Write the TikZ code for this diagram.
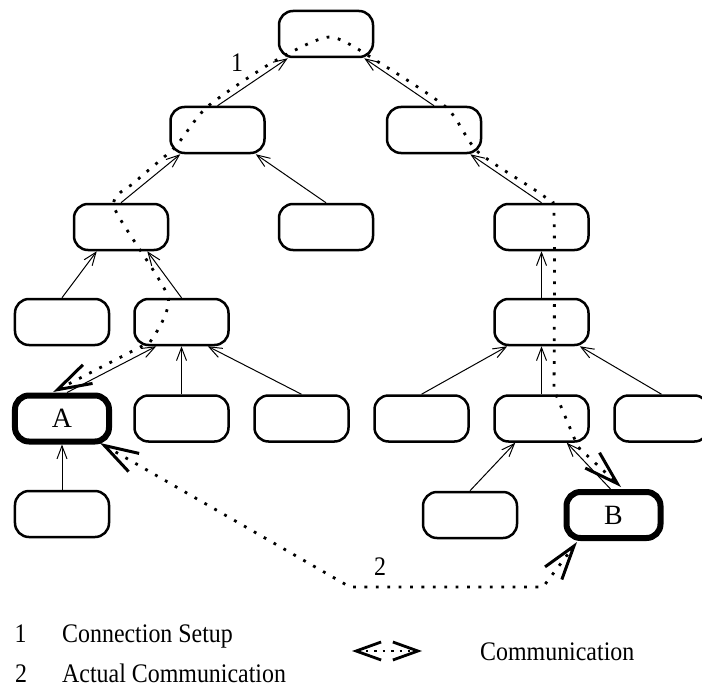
\documentclass[tikz,border=0pt]{standalone}
\usepackage{fontspec}
\setmainfont{Liberation Serif}
\usepackage{graphicx}
\usetikzlibrary{arrows.meta,calc}
\begin{document}
\begin{tikzpicture}[x=1bp,y=-1bp,
  box/.style={draw, line width=2.5bp, rounded corners=14bp, minimum width=94bp, minimum height=46bp, inner sep=0pt},
  endbox/.style={box, line width=6bp, font=\fontsize{28}{28}\selectfont},
  link/.style={line width=1bp, -{Straight Barb[length=13bp,width=10bp]}},
  comm/.style={line width=2.8bp, dash pattern=on 2.8bp off 8.6bp},
  commends/.style={{Straight Barb[length=34bp,width=21bp,line width=0.2bp 1]}-{Straight Barb[length=34bp,width=21bp,line width=0.2bp 1]}},
  legends/.style={{Straight Barb[length=25bp,width=18bp,line width=0.4bp 1]}-{Straight Barb[length=25bp,width=18bp,line width=0.4bp 1]}},
  lbl/.style={font=\fontsize{24}{24}\selectfont, inner sep=0pt}
]
\useasboundingbox (0,0) rectangle (702,690);
\clip (0,0) rectangle (702,690);

% nodes
\node[box] (root) at (326,34) {};
\node[box] (n1a) at (217.5,130) {};
\node[box] (n1b) at (434,130) {};
\node[box] (n2a) at (121,227) {};
\node[box] (n2b) at (326,227) {};
\node[box] (n2c) at (541.5,227) {};
\node[box] (n3a) at (62,322) {};
\node[box] (n3b) at (181.5,322) {};
\node[box] (n3c) at (541.5,322) {};
\node[endbox] (A) at (62,418.5) {A};
\node[box] (n4b) at (181.5,418.5) {};
\node[box] (n4c) at (301.5,418.5) {};
\node[box] (n4d) at (421.5,418.5) {};
\node[box] (n4e) at (541.5,418.5) {};
\node[box] (n4f) at (661.5,418.5) {};
\node[box] (n5a) at (62,514) {};
\node[box] (n5b) at (470,515) {};
\node[endbox] (B) at (613.5,515) {B};

% tree links
\draw[link] (n1a.north) -- ([xshift=10bp]root.south west);
\draw[link] (n1b.north) -- ([xshift=-10bp]root.south east);
\draw[link] (n2a.north) -- ([xshift=11bp]n1a.south west);
\draw[link] (n2b.north) -- ([xshift=-10bp]n1a.south east);
\draw[link] (n2c.north) -- ([xshift=-12bp]n1b.south east);
\draw[link] (n3a.north) -- ([xshift=24bp]n2a.south west);
\draw[link] (n3b.north) -- ([xshift=-22bp]n2a.south east);
\draw[link] (n3c.north) -- (n2c.south);
\draw[link] ([xshift=5bp]A.north) -- ([xshift=23bp]n3b.south west);
\draw[link] (n4b.north) -- (n3b.south);
\draw[link] (n4c.north) -- ([xshift=-22bp]n3b.south east);
\draw[link] (n4d.north) -- ([xshift=14bp]n3c.south west);
\draw[link] (n4e.north) -- (n3c.south);
\draw[link] (n4f.north) -- ([xshift=-10bp]n3c.south east);
\draw[link] (n5a.north) -- (A.south);
\draw[link] (n5b.north) -- ([xshift=22bp]n4e.south west);
\draw[link] ([xshift=-3bp]B.north) -- ([xshift=-23bp]n4e.south east);

% connection setup path (1)
\coordinate (c0) at (53,392);
\coordinate (c1) at (150,342);
\coordinate (c2) at (168,297);
\coordinate (c3) at (114,207);
\coordinate (c4) at (135,182);
\coordinate (c5) at (175,147);
\coordinate (c6) at (207,107);
\coordinate (c7) at (273,62);
\coordinate (c8) at (330,37);
\coordinate (c9) at (380,63);
\coordinate (c10) at (447,108);
\coordinate (c11) at (478,152);
\coordinate (c12) at (545,197);
\coordinate (c13) at (554,215);
\coordinate (c14) at (554,390);
\coordinate (c15) at (578,447);
\coordinate (c16) at (621,487);
\draw[comm, commends] (c0) -- (c1) -- plot[smooth, tension=0.4] coordinates {(c1) (c2) (c3) (c4) (c5) (c6) (c7) (c8) (c9) (c10) (c11) (c12) (c13) (c14)} -- (c15) -- (c16);

% actual communication path (2)
\coordinate (p0) at (100,443);
\coordinate (p1) at (350,587);
\coordinate (p2) at (543,587);
\coordinate (p3) at (577,542);
\draw[comm, commends] (p0) -- (p1) -- (p2) -- (p3);

% labels
\node[lbl, anchor=base] (lab1) at (237,72) {\scalebox{1}[1.12]{1}};
\node[lbl, anchor=base] (lab2) at (380,575) {\scalebox{1}[1.12]{2}};

% legend
\node[lbl, anchor=base] (k1) at (20.5,642) {\scalebox{1}[1.12]{1}};
\node[lbl, anchor=base west] (t1) at (62,642) {\scalebox{1}[1.12]{Connection Setup}};
\node[lbl, anchor=base] (k2) at (21,682) {\scalebox{1}[1.12]{2}};
\node[lbl, anchor=base west] (t2) at (62,682) {\scalebox{1}[1.12]{Actual Communication}};
\coordinate (g0) at (352,651);
\coordinate (g1) at (422,651);
\draw[comm, line width=2.4bp, dash pattern=on 2.4bp off 6bp, legends] (g0) -- (g1);
\node[lbl, anchor=base west] (t3) at (480,660) {\scalebox{1}[1.12]{Communication}};
\end{tikzpicture}
\end{document}
